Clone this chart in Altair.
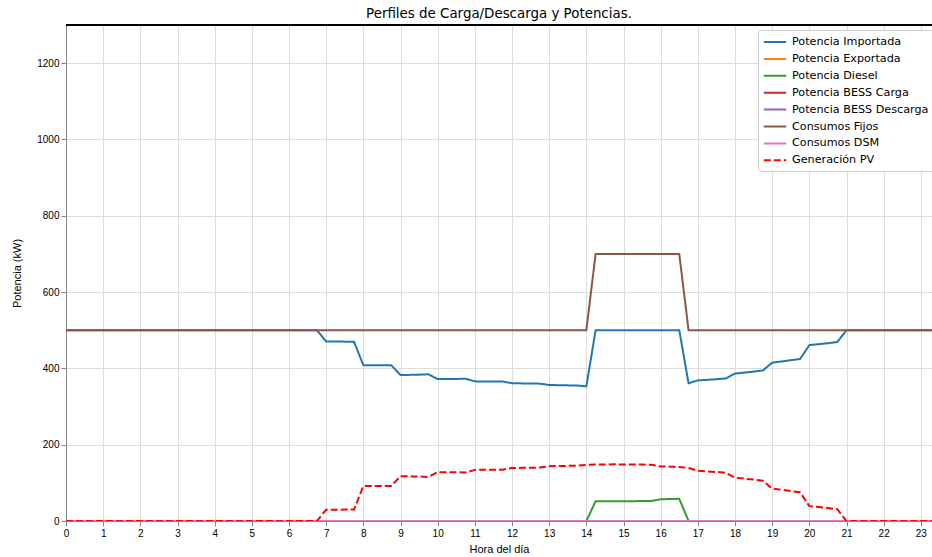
import altair as alt
import pandas as pd

# Quarter-hour time steps over one day
hours = [i * 0.25 for i in range(96)]

series_names = [
    "Potencia Importada",
    "Potencia Exportada",
    "Potencia Diesel",
    "Potencia BESS Carga",
    "Potencia BESS Descarga",
    "Consumos Fijos",
    "Consumos DSM",
    "Generación PV",
]
series_colors = ["#1f77b4", "#ff7f0e", "#2ca02c", "#d62728",
                 "#9467bd", "#8c564b", "#e377c2", "#ff0000"]
series_dash = [[1, 0]] * 7 + [[7, 3]]

importada = (
    [500.0] * 28
    + [470.5, 470.3, 470.1, 469.8]
    + [408.5, 408.4, 408.3, 408.2]
    + [382.5, 383.0, 383.5, 384.5]
    + [372.0, 372.2, 372.4, 372.8]
    + [366.0, 365.8, 365.6, 365.5]
    + [361.0, 360.7, 360.3, 360.0]
    + [356.5, 356.0, 355.5, 355.0]
    + [353.0]
    + [500.0] * 10
    + [361.0]
    + [368.5, 370.0, 371.5, 373.5]
    + [386.5, 389.0, 391.5, 394.5]
    + [415.0, 418.0, 421.5, 424.5]
    + [461.0, 463.5, 466.0, 469.0]
    + [500.0] * 12
)
exportada = [0.0] * 96
diesel = (
    [0.0] * 57
    + [52.0, 51.7, 51.5, 51.7, 52.0, 52.2, 52.5, 57.0, 57.5, 58.2]
    + [0.0] * 29
)
bess_carga = [0.0] * 96
bess_descarga = [0.0] * 96
consumos_fijos = [500.0] * 57 + [700.0] * 10 + [500.0] * 29
consumos_dsm = [0.0] * 96
generacion_pv = (
    [0.0] * 28
    + [29.5, 29.7, 29.9, 30.2]
    + [91.5, 91.6, 91.7, 91.8]
    + [117.5, 117.0, 116.5, 115.5]
    + [128.0, 127.8, 127.6, 127.2]
    + [134.0, 134.2, 134.4, 134.5]
    + [139.0, 139.3, 139.7, 140.0]
    + [143.5, 144.0, 144.5, 145.0]
    + [147.0, 148.0, 148.3, 148.5]
    + [148.3, 148.0, 147.8, 147.5]
    + [143.0, 142.5, 141.8, 139.0]
    + [131.5, 130.0, 128.5, 126.5]
    + [113.5, 111.0, 108.5, 105.5]
    + [85.0, 82.0, 78.5, 75.5]
    + [39.0, 36.5, 34.0, 31.0]
    + [0.0] * 12
)

values = [importada, exportada, diesel, bess_carga, bess_descarga,
          consumos_fijos, consumos_dsm, generacion_pv]

rows = []
for name, vals in zip(series_names, values):
    for h, v in zip(hours, vals):
        rows.append({"hora": h, "potencia": v, "serie": name})
df = pd.DataFrame(rows)

FONT = "DejaVu Sans"
FS = 11.2
LW = 2
W, H = 866, 496

x_enc = alt.X(
    "hora:Q",
    scale=alt.Scale(domain=[0, 23.3], nice=False, zero=False),
    axis=alt.Axis(values=list(range(24)), title="Hora del día", format="d",
                  labelFlush=False, titlePadding=5,
                  titleFontWeight="normal"),
)
y_enc = alt.Y(
    "potencia:Q",
    scale=alt.Scale(domain=[0, 1300], nice=False),
    axis=alt.Axis(values=[0, 200, 400, 600, 800, 1000, 1200], format="d",
                  title="Potencia (kW)", titlePadding=14,
                  titleFontWeight="normal"),
)

legend_style = dict(
    title=None, orient="none", legendX=692, legendY=5,
    symbolType="M-1.87,0H1.87", symbolSize=144, symbolStrokeWidth=LW,
    symbolOffset=5, labelOffset=10,
    labelFont=FONT, labelFontSize=FS, labelColor="#000000", labelLimit=300,
    rowPadding=3.9, fillColor="#ffffff", strokeColor="#cccccc",
    cornerRadius=3, padding=5,
)
color_enc = alt.Color(
    "serie:N",
    scale=alt.Scale(domain=series_names, range=series_colors),
    legend=alt.Legend(**legend_style),
)
dash_enc = alt.StrokeDash(
    "serie:N",
    scale=alt.Scale(domain=series_names, range=series_dash),
    legend=alt.Legend(**legend_style),
)

base = alt.Chart(df)
layers = []
for name in series_names:
    layers.append(
        base.transform_filter(alt.datum.serie == name)
        .mark_line(strokeWidth=LW, clip=True)
        .encode(x=x_enc, y=y_enc, color=color_enc, strokeDash=dash_enc)
    )

# top spine of the plot frame
top_spine = base.mark_rule(color="#000000", strokeWidth=1).encode(
    x=alt.value(0), x2=alt.value(W), y=alt.value(0)
)

chart = (
    alt.layer(*layers, top_spine)
    .properties(
        width=W,
        height=H,
        title=alt.TitleParams("Perfiles de Carga/Descarga y Potencias.",
                              font=FONT, fontSize=13.4, fontWeight="normal",
                              color="#000000", offset=4),
        autosize=alt.AutoSizeParams(type="none"),
        padding={"left": 66, "top": 25, "right": 0, "bottom": 36},
    )
    .configure_view(stroke=None)
    .configure_axis(
        labelFont=FONT, labelFontSize=FS, labelColor="#000000",
        titleFont=FONT, titleFontSize=FS, titleFontWeight="normal",
        titleColor="#000000",
        domainColor="#000000", domainWidth=1,
        tickColor="#000000", tickSize=4, labelPadding=3,
        gridColor="#b0b0b0", gridWidth=1,
    )
    .configure(background="#ffffff")
)

chart.save("out.html", embed_options={"renderer": "svg", "actions": False})
